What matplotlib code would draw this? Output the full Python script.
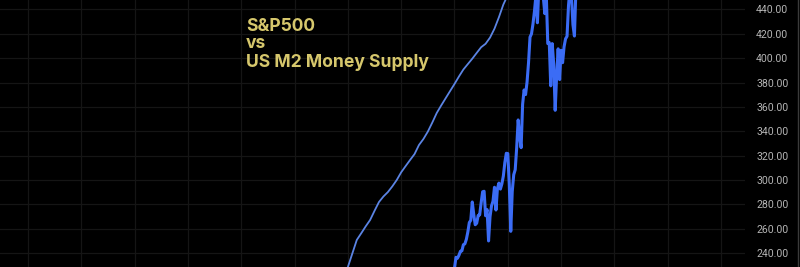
import numpy as np
import matplotlib
matplotlib.use("Agg")
import matplotlib.pyplot as plt
from matplotlib.ticker import FixedLocator, FormatStrFormatter
from matplotlib.lines import Line2D

# ---- data ----
# S&P500 (SPY) monthly closes, Nov 2016 .. Dec 2023
spx_start = 2016 + 10 / 12
spx = [
    220.4, 223.5,
    227.5, 236.5, 235.7, 238.1, 241.4, 241.8, 246.8, 247.5, 251.2, 257.2, 265.0, 266.9,
    281.9, 271.7, 263.2, 264.5, 270.9, 271.3, 281.3, 290.3, 290.7, 270.6, 275.7, 249.9,
    269.9, 278.7, 282.5, 294.0, 275.3, 293.0, 297.4, 292.5, 296.8, 303.3, 314.3, 321.9,
    321.7, 296.3, 257.8, 290.5, 304.3, 308.4, 326.5, 349.3, 334.9, 326.5, 362.1, 373.9,
    370.1, 380.4, 396.3, 417.3, 420.0, 428.1, 438.5, 451.6, 429.1, 459.3, 455.6, 475.0,
    449.9, 436.6, 451.6, 412.0, 412.9, 377.3, 412.0, 395.2, 357.2, 386.2, 407.7, 382.4,
    406.5, 396.3, 409.4, 415.9, 418.0, 443.3, 457.8, 450.4, 427.5, 418.2, 456.4, 475.3,
]

# US M2 money supply (billions USD), quarterly, 2011 Q1 .. 2020 Q2
m2_start = 2011.0
m2 = [
    8800, 9132, 9463, 9627, 9796, 9953, 10179, 10395, 10530, 10638, 10778, 10935,
    11124, 11276, 11425, 11570, 11793, 11940, 12122, 12343, 12578, 12762, 12939, 13115,
    13290, 13473, 13645, 13778, 13910, 14052, 14192, 14276, 14428, 14646, 14928, 15240,
    15473, 16000,
]

title_lines = ["S&P500", "vs", "US M2 Money Supply"]
y_ticks = [240, 260, 280, 300, 320, 340, 360, 380, 400, 420, 440]
grid_years = list(range(1993, 2034, 3))

# ---- figure ----
W, H = 800, 267
fig = plt.figure(figsize=(W / 100, H / 100), dpi=100, facecolor="black")
ax = fig.add_axes([0, 0, 745 / W, 1])
ax.set_facecolor("black")
ax2 = ax.twinx()

spx_x = spx_start + np.arange(len(spx)) / 12
m2_x = m2_start + np.arange(len(m2)) * 0.25

ax2.plot(m2_x, m2, color="#5b84e4", lw=1.3, solid_joinstyle="round")
ax.plot(spx_x, spx, color="#3b6cf5", lw=2.2, solid_joinstyle="round", zorder=5)

ax.set_xlim(1991.42, 2033.35)
ax.set_ylim(228.5, 447.8)
ax2.set_ylim(8800, 15350)

ax.xaxis.set_major_locator(FixedLocator(grid_years))
ax.yaxis.set_major_locator(FixedLocator(y_ticks))
ax.yaxis.set_major_formatter(FormatStrFormatter("%.2f"))
ax.grid(True, color="#151515", lw=0.9)
ax.set_axisbelow(True)

ax.tick_params(axis="x", length=0, labelbottom=False)
ax.yaxis.tick_right()
ax.tick_params(axis="y", length=0, pad=8, labelsize=7.6, labelcolor="#b4b4b4",
               labelright=True, labelleft=False)
for lab in ax.get_yticklabels():
    lab.set_fontfamily(["Roboto", "DejaVu Sans"])

ax2.set_yticks([])
ax2.tick_params(length=0, labelright=False)
for a in (ax, ax2):
    for s in a.spines.values():
        s.set_visible(False)

# right border of the price scale
fig.add_artist(Line2D([797.5 / W, 797.5 / W], [0, 1], color="#3a3a3a", lw=1.0,
                      transform=fig.transFigure))

# title text
baselines = [30.7, 48.3, 67.3]
for txt, b in zip(title_lines, baselines):
    fig.text(246 / W, 1 - b / H, txt, color="#d6c76c", fontsize=12.6,
             fontweight="bold", family=["Inter", "DejaVu Sans"], va="baseline",
             ha="left")

fig.savefig("out.png", dpi=100, facecolor="black")
